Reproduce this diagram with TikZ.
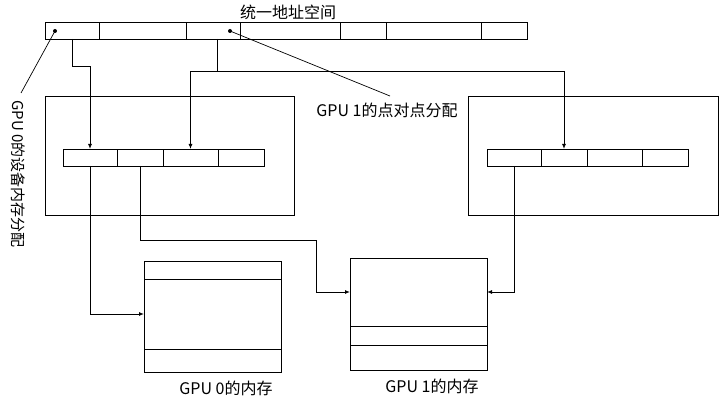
\documentclass[tikz,border=0pt]{standalone}
\usepackage{fontspec}
\setmainfont{Noto Sans CJK SC}
\usetikzlibrary{arrows.meta}
\begin{document}
\begin{tikzpicture}[x=1pt,y=-1pt,
  line width=0.9pt,
  box/.style={draw,rectangle,inner sep=0pt,outer sep=0pt,anchor=north west},
  cell/.style={box,minimum height=17pt},
  arr/.style={-{Latex[length=5pt,width=4pt]}},
  lbl/.style={font=\fontsize{16}{18}\selectfont,inner sep=0pt},
  vlbl/.style={font=\fontsize{15}{17}\selectfont,inner sep=0pt},
  dot/.style={circle,fill,inner sep=0pt,minimum size=4pt}
]
\useasboundingbox (0,0) rectangle (724,401);

% unified address space bar
\node[cell,minimum width=54pt] (u1) at (45,22) {};
\node[cell,minimum width=87pt] (u2) at (99,22) {};
\node[cell,minimum width=54pt] (u3) at (186,22) {};
\node[cell,minimum width=100pt] (u4) at (240,22) {};
\node[cell,minimum width=46pt] (u5) at (340,22) {};
\node[cell,minimum width=95pt] (u6) at (386,22) {};
\node[cell,minimum width=46pt] (u7) at (481,22) {};
\node[lbl] (title) at (288,12) {统一地址空间};

% GPU 0 box
\node[box,minimum width=249pt,minimum height=119pt] (g0) at (45,96) {};
\node[cell,minimum width=54pt] (c1) at (63,149) {};
\node[cell,minimum width=46pt] (c2) at (117,149) {};
\node[cell,minimum width=55pt] (c3) at (163,149) {};
\node[cell,minimum width=46pt] (c4) at (218,149) {};

% GPU 1 box
\node[box,minimum width=250pt,minimum height=119pt] (g1) at (468,96) {};
\node[cell,minimum width=54pt] (d1) at (487,149) {};
\node[cell,minimum width=46pt] (d2) at (541,149) {};
\node[cell,minimum width=55pt] (d3) at (587,149) {};
\node[cell,minimum width=46pt] (d4) at (642,149) {};

% memories
\node[box,minimum width=137pt,minimum height=111pt] (m0) at (144,261) {};
\draw (m0.north west) ++(0,18) coordinate (m0a) -- (m0a -| m0.east);
\draw (m0.north west) ++(0,88) coordinate (m0b) -- (m0b -| m0.east);
\node[box,minimum width=137pt,minimum height=112pt] (m1) at (350,258) {};
\draw (m1.north west) ++(0,68) coordinate (m1a) -- (m1a -| m1.east);
\draw (m1.north west) ++(0,87) coordinate (m1b) -- (m1b -| m1.east);
\node[lbl] (l0) at (226,388) {GPU 0的内存};
\node[lbl] (l1) at (432,386) {GPU 1的内存};

% top connectors
\coordinate (p3) at (217,39);
\coordinate (j) at (217,71);
\draw[arr] (u1.south) -- ++(0,27) -| (c1.north);
\draw (p3) -- (j);
\draw[arr] (j) -| (c3.north);
\draw[arr] (j) -| (d2.north);

% bottom connectors
\coordinate (k1) at (316,240);
\coordinate (h292) at (0,292);
\coordinate (h314) at (0,314);
\draw[arr] (c1.south) |- (m0.west |- h314);
\draw[arr] (c2.south) |- (k1) |- (m1.west |- h292);
\draw[arr] (d1.south) |- (m1.east |- h292);

% dots and leader labels
\node[dot] (dt0) at (55,31) {};
\node[dot] (dt1) at (230,31) {};
\coordinate (e0) at (21,93);
\coordinate (e1) at (390,96);
\draw[line width=0.7pt] (dt0.center) -- (e0);
\draw[line width=0.7pt] (dt1.center) -- (e1);
\node[vlbl,rotate=-90] (lv) at (18,174) {GPU 0的设备内存分配};
\node[lbl] (lp) at (387,110) {GPU 1的点对点分配};
\end{tikzpicture}
\end{document}
